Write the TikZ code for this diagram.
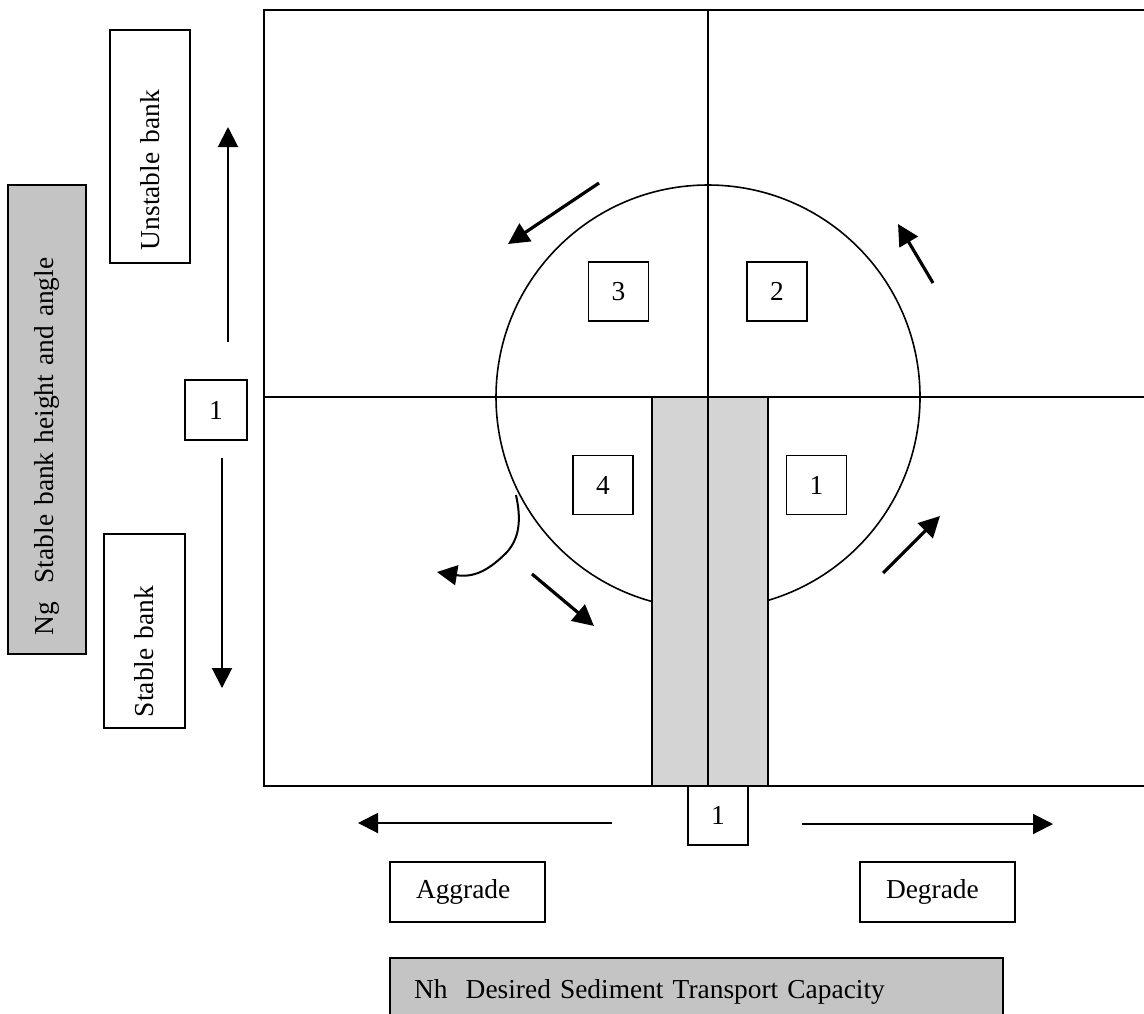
\documentclass[tikz,border=0pt]{standalone}
\usepackage{fontspec}
\setmainfont{Liberation Serif}
\usetikzlibrary{arrows.meta}
\definecolor{labelgray}{gray}{0.77}
\definecolor{bargray}{gray}{0.83}
\begin{document}
\begin{tikzpicture}[x=0.5pt,y=-0.5pt,
  txt/.style={font=\fontsize{13.7}{16}\selectfont},
  frameline/.style={line width=0.9pt},
  numbox/.style={draw, line width=0.9pt, txt, inner sep=0pt, minimum width=30pt, minimum height=29.5pt},
  labelbox/.style={draw, line width=0.9pt, txt, inner ysep=0pt, align=left},
  thinarrow/.style={-{Triangle[length=10pt,width=10pt]}, line width=1pt},
  cyclearrow/.style={-{Triangle[length=10.5pt,width=10.5pt]}, line width=1.6pt}
]
\useasboundingbox (0,0) rectangle (1144,1013);

% quadrant diagram: circle, shaded channel bars, cross lines and frame
\node[draw, circle, line width=0.8pt, inner sep=0pt, minimum size=212pt] (cycle) at (708,397) {};
\filldraw[fill=bargray, line width=0.9pt] (652,397) rectangle (708,786);
\filldraw[fill=bargray, line width=0.9pt] (708,397) rectangle (768,786);
\draw[frameline] (708,10) -- (708,397);
\draw[frameline] (264,397) -- (1144,397);
\draw[frameline] (1144,10) -- (264,10) -- (264,786) -- (1144,786);

% numbered stages
\node[numbox] (s3) at (618.5,291.5) {3};
\node[numbox] (s2) at (777,291.5) {2};
\node[numbox] (s4) at (603,485) {4};
\node[numbox] (s1) at (816.5,485) {1};

% arrows running round the cycle
\coordinate (a3t) at (599,183);  \coordinate (a3h) at (508,244);
\coordinate (a2t) at (933,283);  \coordinate (a2h) at (898,224);
\coordinate (a1t) at (883,573);  \coordinate (a1h) at (940,516);
\coordinate (a4t) at (532,574);  \coordinate (a4h) at (594,626);
\draw[cyclearrow] (a3t) -- (a3h);
\draw[cyclearrow] (a2t) -- (a2h);
\draw[cyclearrow] (a1t) -- (a1h);
\draw[cyclearrow] (a4t) -- (a4h);

% branch leaving the cycle
\coordinate (bt) at (516,495);
\coordinate (bh) at (437,572);
\draw[thinarrow] (bt) .. controls (521,518) and (521,540) .. (503,556)
  .. controls (488,570) and (474,578) .. (bh);

% vertical axis
\node[labelbox, fill=labelgray, rotate=90, text width=215.5pt, inner xsep=9.5pt, minimum height=39pt]
  (ng) at (47,419.5) {Ng\ \ Stable bank height and angle};
\node[labelbox, rotate=90, text width=103.5pt, inner xsep=6.5pt, minimum height=40pt]
  (unstable) at (150,146.5) {Unstable bank};
\node[labelbox, rotate=90, text width=86pt, inner xsep=5.5pt, minimum height=40.5pt]
  (stable) at (144.5,631) {Stable bank};
\node[numbox, minimum width=31pt, minimum height=30pt] (vone) at (216,410) {1};
\coordinate (upt) at (228,342);  \coordinate (uph) at (228,127);
\coordinate (dnt) at (222,458);  \coordinate (dnh) at (222,688);
\draw[thinarrow] (upt) -- (uph);
\draw[thinarrow] (dnt) -- (dnh);

% horizontal axis
\node[numbox, minimum width=30pt, minimum height=29.5pt] (hone) at (718,815.5) {1};
\coordinate (lft) at (612,823);  \coordinate (lfh) at (358,823);
\coordinate (rgt) at (802,824);  \coordinate (rgh) at (1053,824);
\draw[thinarrow] (lft) -- (lfh);
\draw[thinarrow] (rgt) -- (rgh);
\node[labelbox, text width=51.5pt, inner xsep=13pt, minimum height=30pt]
  (aggrade) at (467.5,892) {Aggrade};
\node[labelbox, text width=51.5pt, inner xsep=13pt, minimum height=30pt]
  (degrade) at (937.5,892) {Degrade};
\node[labelbox, fill=labelgray, text width=282.5pt, inner xsep=12pt, minimum height=34pt]
  (nh) at (696.5,992) {Nh\ \ Desired Sediment Transport Capacity};
\end{tikzpicture}
\end{document}
